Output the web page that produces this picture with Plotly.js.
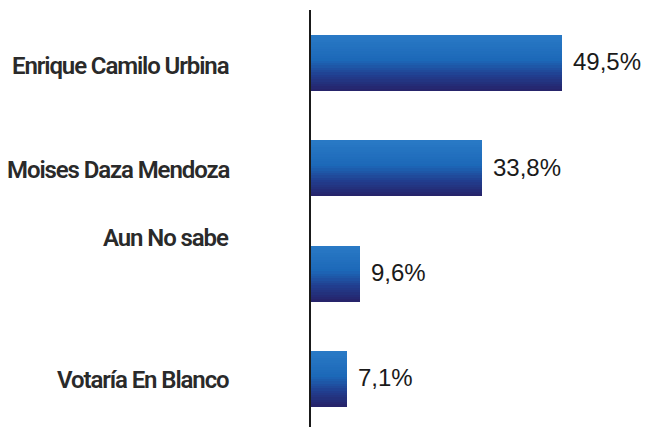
<!DOCTYPE html>
<html>
<head>
<meta charset="utf-8">
<script src="https://cdn.plot.ly/plotly-3.0.1.min.js"></script>
<style>html,body{margin:0;padding:0;background:#fff;}#chart{width:651px;height:427px;}</style>
</head>
<body>
<div id="chart"></div>
<script>
// Data
const categories = ["Enrique Camilo Urbina", "Moises Daza Mendoza", "Aun No sabe", "Votaría En Blanco"];
const values = [49.5, 33.8, 9.6, 7.1];
const valueLabels = ["49,5%", "33,8%", "9,6%", "7,1%"];

// Styling
const labelShift = [-3, -2, 36, -1]; // vertical offset of category labels (px, positive = up)
const barWidth = 0.53;
const stops = [[0, [42, 122, 198]], [0.45, [28, 104, 184]], [0.72, [33, 62, 143]], [1, [38, 34, 104]]];
function colorAt(t) {
  for (let i = 0; i < stops.length - 1; i++) {
    const [t0, c0] = stops[i], [t1, c1] = stops[i + 1];
    if (t >= t0 && t <= t1) {
      const f = (t - t0) / (t1 - t0);
      const c = c0.map((v, k) => Math.round(v + (c1[k] - v) * f));
      return `rgb(${c[0]},${c[1]},${c[2]})`;
    }
  }
  return 'rgb(38,34,104)';
}

const N = 24;
const traces = [];
for (let i = 0; i < N; i++) {
  const w = barWidth / N;
  traces.push({
    type: 'bar', orientation: 'h',
    x: values, y: categories,
    width: categories.map(() => w * 1.02),
    offset: categories.map(() => -barWidth / 2 + i * w),
    marker: {color: colorAt((i + 0.5) / N), line: {width: 0}},
    hoverinfo: 'skip', showlegend: false
  });
}

const annotations = [];
categories.forEach((c, i) => {
  annotations.push({
    xref: 'paper', yref: 'y', x: 0, y: c, xanchor: 'right', yanchor: 'middle',
    xshift: -80, yshift: labelShift[i], showarrow: false,
    text: '<span style="letter-spacing:-1.1px">' + c + '</span>',
    font: {family: 'Roboto, sans-serif', size: 24, weight: 600, color: '#2a2a2a'}
  });
  annotations.push({
    xref: 'x', yref: 'y', x: values[i], y: c, xanchor: 'left', yanchor: 'middle',
    xshift: 9, yshift: 1, showarrow: false, text: valueLabels[i],
    font: {family: 'Liberation Sans, Arial, sans-serif', size: 24, color: '#1a1a1a'}
  });
});

const layout = {
  width: 651, height: 427,
  margin: {l: 311, r: 0, t: 10, b: 0, pad: 0},
  paper_bgcolor: '#ffffff', plot_bgcolor: '#ffffff',
  barmode: 'overlay', bargap: 0,
  xaxis: {range: [0, 67.06], showgrid: false, zeroline: false, showline: false, showticklabels: false, ticks: ''},
  yaxis: {type: 'category', range: [3.457, -0.503], showgrid: false, zeroline: false,
          showline: true, linecolor: '#1a1a1a', linewidth: 2, showticklabels: false, ticks: ''},
  annotations: annotations,
  showlegend: false
};

Plotly.newPlot('chart', traces, layout, {displayModeBar: false, staticPlot: true});
</script>
</body>
</html>
